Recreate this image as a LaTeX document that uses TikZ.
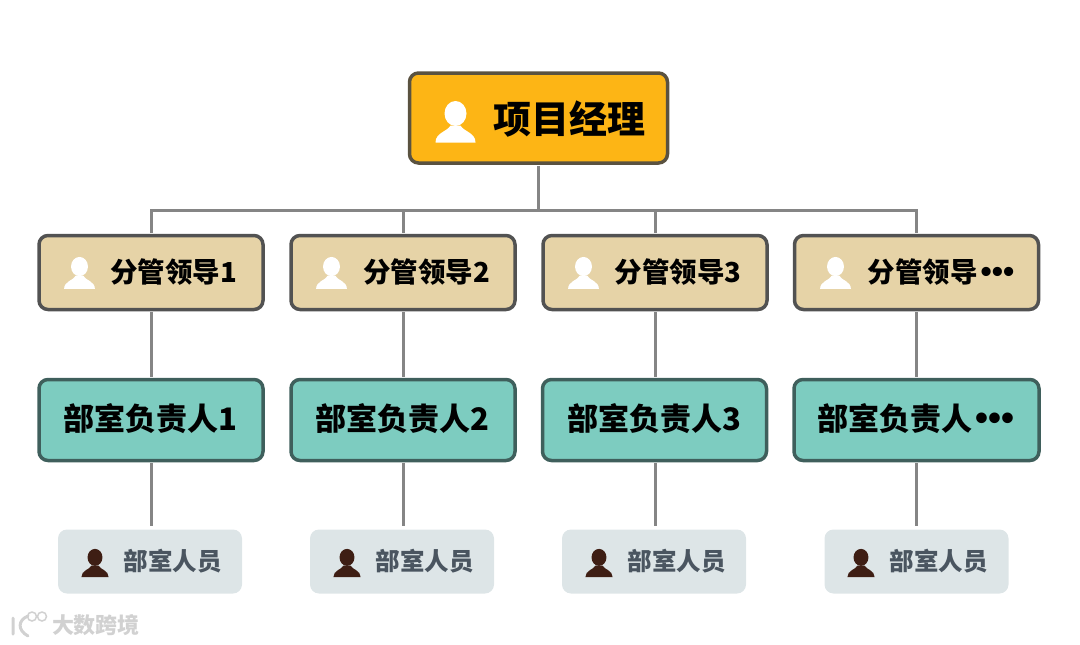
\documentclass[tikz,border=0pt]{standalone}
\usepackage{fontspec}
\setmainfont{Noto Sans CJK SC}
\newfontfamily\dotfont{Liberation Sans}
\usepackage{xcolor}
\usetikzlibrary{positioning,calc}
\definecolor{pmfill}{HTML}{FDB515}
\definecolor{pmedge}{HTML}{5A5240}
\definecolor{leadfill}{HTML}{E6D3A7}
\definecolor{headfill}{HTML}{7DCCC0}
\definecolor{headedge}{HTML}{3F5F5C}
\definecolor{stafffill}{HTML}{DDE5E7}
\definecolor{stafftext}{HTML}{4A5560}
\definecolor{staffman}{HTML}{3E1E14}
\definecolor{wire}{HTML}{858585}
\newcommand{\leaddots}{\hspace{3pt}{\dotfont\fontsize{32pt}{32pt}\selectfont •••}}
\newcommand{\headdots}{\hspace{3pt}{\dotfont\fontsize{37pt}{37pt}\selectfont •••}}
\tikzset{
  card/.style    ={draw=black!68,line width=3.5pt,rounded corners=9pt,inner sep=0pt},
  pmbox/.style   ={card,draw=pmedge,fill=pmfill,minimum width=258pt,minimum height=90pt},
  leadbox/.style ={card,fill=leadfill,minimum width=224pt,minimum height=74pt},
  headbox/.style ={card,draw=headedge,fill=headfill,minimum width=224pt,minimum height=81pt},
  staffbox/.style={fill=stafffill,rounded corners=9pt,inner sep=0pt,minimum width=184pt,minimum height=64pt},
  pmlbl/.style   ={inner sep=0pt,font=\fontsize{38pt}{40pt}\selectfont\bfseries},
  leadlbl/.style ={inner sep=0pt,font=\fontsize{27.5pt}{30pt}\selectfont\bfseries},
  headlbl/.style ={inner sep=0pt,font=\fontsize{31pt}{34pt}\selectfont\bfseries},
  stafflbl/.style={inner sep=0pt,text=stafftext,font=\fontsize{24.5pt}{26pt}\selectfont\bfseries},
  marklbl/.style ={inner sep=0pt,text=black!18,font=\fontsize{22pt}{24pt}\selectfont\bfseries},
  link/.style    ={line width=3pt,wire},
  person/.pic={
    \fill[pic actions] (0,-9) ellipse (11 and 12.5);
    \fill[pic actions] (-20,20) -- (20,20) .. controls (20,10) and (8,9) .. (5,3)
      -- (-5,3) .. controls (-8,9) and (-20,10) .. (-20,20) -- cycle;
  },
}
\begin{document}
\begin{tikzpicture}[x=1pt,y=-1pt]
  \useasboundingbox (0,0) rectangle (1080,645);
  % project manager
  \node[pmbox] (pm) at (538.5,118) {};
  \pic[fill=white] at (455.5,122.5) {person};
  \node[pmlbl] (pmt) at (569,119) {项目经理};
  % leaders
  \node[leadbox] (lead1) at (151,272.5) {};
  \node[leadbox] (lead2) at (403,272.5) {};
  \node[leadbox] (lead3) at (655,272.5) {};
  \node[leadbox,minimum width=244pt] (lead4) at (916.5,272.5) {};
  \pic[fill=white,scale=.77] at (79.5,273.5) {person};
  \pic[fill=white,scale=.77] at (331.5,273.5) {person};
  \pic[fill=white,scale=.77] at (583.5,273.5) {person};
  \pic[fill=white,scale=.77] at (835.5,273.5) {person};
  \node[leadlbl] (leadt1) at (173.5,272) {分管领导1};
  \node[leadlbl] (leadt2) at (426.5,272) {分管领导2};
  \node[leadlbl] (leadt3) at (678,272) {分管领导3};
  \node[leadlbl] (leadt4) at (941,272) {分管领导\leaddots};
  % department heads
  \node[headbox] (head1) at (151,420) {};
  \node[headbox] (head2) at (403,420) {};
  \node[headbox] (head3) at (654.5,420) {};
  \node[headbox,minimum width=245pt] (head4) at (916.5,420) {};
  \node[headlbl] (headt1) at (150,419) {部室负责人1};
  \node[headlbl] (headt2) at (402.5,419) {部室负责人2};
  \node[headlbl] (headt3) at (654,419) {部室负责人3};
  \node[headlbl] (headt4) at (916,419) {部室负责人\headdots};
  % staff
  \node[staffbox] (staff1) at (150,561.5) {};
  \node[staffbox] (staff2) at (402,561.5) {};
  \node[staffbox] (staff3) at (654,561.5) {};
  \node[staffbox] (staff4) at (916.5,561.5) {};
  \pic[fill=staffman,scale=.68] at (95,563.5) {person};
  \pic[fill=staffman,scale=.68] at (347,563.5) {person};
  \pic[fill=staffman,scale=.68] at (599,563.5) {person};
  \pic[fill=staffman,scale=.68] at (861,563.5) {person};
  \node[stafflbl] (stafft1) at (172.5,561) {部室人员};
  \node[stafflbl] (stafft2) at (424.5,561) {部室人员};
  \node[stafflbl] (stafft3) at (676.5,561) {部室人员};
  \node[stafflbl] (stafft4) at (938.5,561) {部室人员};
  % connectors
  \coordinate (bus) at (538.5,210);
  \draw[link,shorten <=1pt] (pm.south) -- (bus);
  \draw[link,shorten >=.5pt] (bus) -| (lead1.north);
  \draw[link,shorten >=.5pt] (bus) -| (lead2.north);
  \draw[link,shorten >=.5pt] (bus) -| (lead3.north);
  \draw[link,shorten >=.5pt] (bus) -| (lead4.north);
  \draw[link,shorten <=1pt,shorten >=1pt] (lead1.south) -- (head1.north);
  \draw[link,shorten <=1pt,shorten >=1pt] (lead2.south) -- (head2.north);
  \draw[link,shorten <=1pt,shorten >=1pt] (lead3.south) -- (lead3.south |- head3.north);
  \draw[link,shorten <=1pt,shorten >=1pt] (lead4.south) -- (head4.north);
  \draw[link,shorten <=1pt,shorten >=3pt] (head1.south -| lead1.south) -- (lead1.south |- staff1.north);
  \draw[link,shorten <=1pt,shorten >=3pt] (head2.south -| lead2.south) -- (lead2.south |- staff2.north);
  \draw[link,shorten <=1pt,shorten >=3pt] (head3.south -| lead3.south) -- (lead3.south |- staff3.north);
  \draw[link,shorten <=1pt,shorten >=3pt] (head4.south -| lead4.south) -- (lead4.south |- staff4.north);
  % corner mark
  \draw[line width=3pt,black!18,line cap=round,rounded corners=3pt]
    (13,618) -- (13,634) (28,616) .. controls (18,620) and (17,630) .. (28,636);
  \draw[line width=1.5pt,black!18] (32,616.5) circle (4.5) (42,616.5) circle (4.5);
  \node[marklbl] (markt) at (96,625.5) {大数跨境};
\end{tikzpicture}
\end{document}
